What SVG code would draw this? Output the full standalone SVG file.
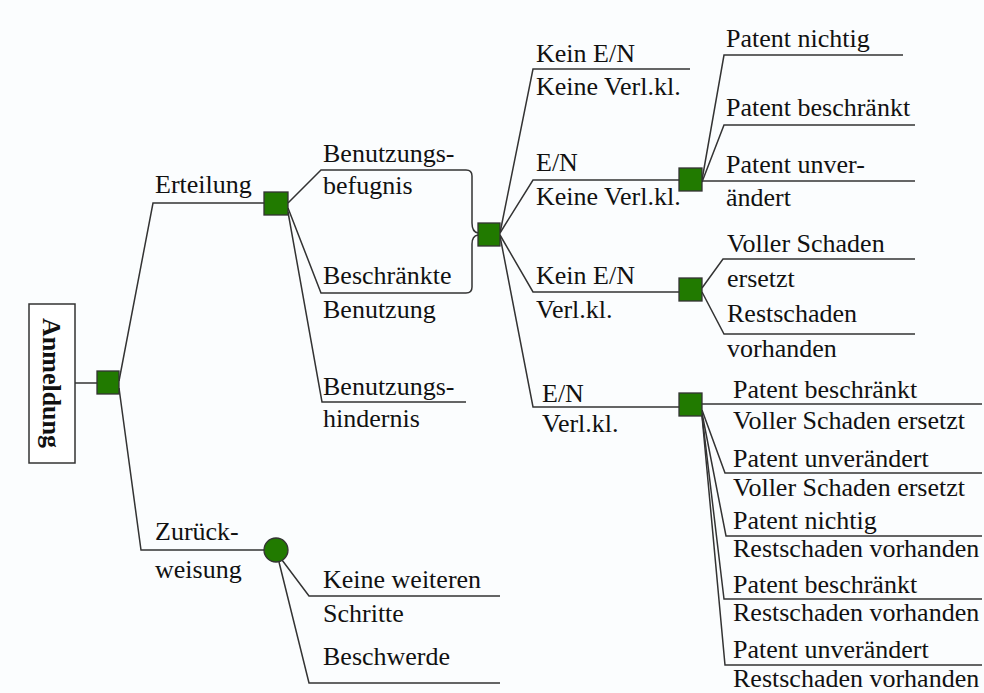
<svg xmlns="http://www.w3.org/2000/svg" width="984" height="693" viewBox="0 0 984 693">
  <style>
    .bg { fill: #fbfdfe; }
    .edge { fill: none; stroke: #333; stroke-width: 1.5; }
    .dec { fill: #217a00; stroke: #333; stroke-width: 1.3; }
    .box { fill: #fff; stroke: #333; stroke-width: 1.5; }
    text { font-family: "Liberation Serif", "Times New Roman", serif; font-size: 26px; fill: #111; }
    .title { font-weight: bold; }
  </style>
  <rect class="bg" x="0" y="0" width="984" height="693"/>

  <!-- connectors -->
  <g id="connectors">
    <!-- root -->
    <path class="edge" d="M75,383 H97"/>
    <path class="edge" d="M119,381 L153,203 H264"/>
    <path class="edge" d="M119,388 L141,550 H264"/>
    <!-- Erteilung; the two usage branches join in a brace -->
    <path class="edge" d="M288,203 L321,170 H466 Q472,170 472,176 V223 Q472,232 478,233"/>
    <path class="edge" d="M288,208 L321,293 H466 Q472,293 472,287 V244 Q472,236 478,235"/>
    <path class="edge" d="M288,212 L322,402 H466"/>
    <!-- Zurückweisung -->
    <path class="edge" d="M282,560 L309,596 H500"/>
    <path class="edge" d="M279,562 L309,683 H500"/>
    <!-- usage decision -->
    <path class="edge" d="M500,233 L533,69 H690"/>
    <path class="edge" d="M500,233 L533,180 H679"/>
    <path class="edge" d="M500,235 L533,292 H679"/>
    <path class="edge" d="M500,236 L533,407 H679"/>
    <!-- E/N, keine Verl.kl. -->
    <path class="edge" d="M702,180 L724,55 H903"/>
    <path class="edge" d="M702,182 L724,125 H915"/>
    <path class="edge" d="M702,181 H915"/>
    <!-- kein E/N, Verl.kl. -->
    <path class="edge" d="M702,288 L723,259 H915"/>
    <path class="edge" d="M702,292 L724,334 H915"/>
    <!-- E/N, Verl.kl. -->
    <path class="edge" d="M702,404 H982"/>
    <path class="edge" d="M702,410 L725,473 H982"/>
    <path class="edge" d="M702,413 L726,536 H982"/>
    <path class="edge" d="M702,415 L724,599 H982"/>
    <path class="edge" d="M702,416 L725,665 H982"/>
  </g>

  <g id="anmeldung">
    <rect class="box" x="29" y="304" width="46" height="159"/>
    <text class="title" transform="translate(43,383) rotate(90)" text-anchor="middle">Anmeldung</text>
  </g>
  <g id="root-decision">
    <rect class="dec" x="97" y="371" width="22" height="23"/>
  </g>

  <g id="erteilung">
    <text x="155" y="193">Erteilung</text>
    <rect class="dec" x="264" y="192" width="24" height="23"/>
  </g>
  <g id="zurueckweisung">
    <text x="155" y="540">Zurück-</text>
    <text x="155" y="578">weisung</text>
    <circle class="dec" cx="276" cy="550" r="12"/>
  </g>

  <g id="benutzungsbefugnis">
    <text x="323" y="162">Benutzungs-</text>
    <text x="323" y="194">befugnis</text>
  </g>
  <g id="beschraenkte-benutzung">
    <text x="323" y="284">Beschränkte</text>
    <text x="323" y="318">Benutzung</text>
  </g>
  <g id="benutzungshindernis">
    <text x="323" y="395">Benutzungs-</text>
    <text x="323" y="427">hindernis</text>
  </g>
  <g id="keine-weiteren-schritte">
    <text x="323" y="588">Keine weiteren</text>
    <text x="323" y="622">Schritte</text>
  </g>
  <g id="beschwerde">
    <text x="323" y="665">Beschwerde</text>
  </g>

  <g id="nutzung-decision">
    <rect class="dec" x="478" y="223" width="22" height="23"/>
  </g>

  <g id="kein-en-keine-verlkl">
    <text x="536" y="62">Kein E/N</text>
    <text x="536" y="95">Keine Verl.kl.</text>
  </g>
  <g id="en-keine-verlkl">
    <text x="536" y="171">E/N</text>
    <text x="536" y="205">Keine Verl.kl.</text>
    <rect class="dec" x="679" y="168" width="23" height="23"/>
  </g>
  <g id="kein-en-verlkl">
    <text x="536" y="284">Kein E/N</text>
    <text x="536" y="318">Verl.kl.</text>
    <rect class="dec" x="679" y="278" width="23" height="23"/>
  </g>
  <g id="en-verlkl">
    <text x="542" y="402">E/N</text>
    <text x="542" y="432">Verl.kl.</text>
    <rect class="dec" x="679" y="393" width="23" height="23"/>
  </g>

  <g id="patent-nichtig">
    <text x="726" y="47">Patent nichtig</text>
  </g>
  <g id="patent-beschraenkt">
    <text x="726" y="116">Patent beschränkt</text>
  </g>
  <g id="patent-unveraendert">
    <text x="726" y="173">Patent unver-</text>
    <text x="726" y="206">ändert</text>
  </g>

  <g id="voller-schaden">
    <text x="727" y="252">Voller Schaden</text>
    <text x="727" y="287">ersetzt</text>
  </g>
  <g id="restschaden">
    <text x="727" y="322">Restschaden</text>
    <text x="727" y="357">vorhanden</text>
  </g>

  <g id="beschraenkt-voll">
    <text x="733" y="398">Patent beschränkt</text>
    <text x="733" y="429">Voller Schaden ersetzt</text>
  </g>
  <g id="unveraendert-voll">
    <text x="733" y="467">Patent unverändert</text>
    <text x="733" y="496">Voller Schaden ersetzt</text>
  </g>
  <g id="nichtig-rest">
    <text x="733" y="529">Patent nichtig</text>
    <text x="733" y="557">Restschaden vorhanden</text>
  </g>
  <g id="beschraenkt-rest">
    <text x="733" y="593">Patent beschränkt</text>
    <text x="733" y="621">Restschaden vorhanden</text>
  </g>
  <g id="unveraendert-rest">
    <text x="733" y="658">Patent unverändert</text>
    <text x="733" y="687">Restschaden vorhanden</text>
  </g>
</svg>
